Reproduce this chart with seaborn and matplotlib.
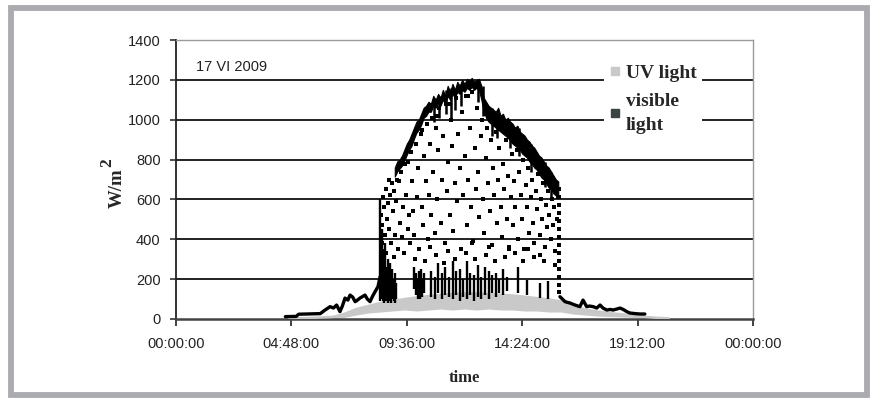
import matplotlib
matplotlib.use("Agg")
import matplotlib.pyplot as plt
import seaborn as sns
import pandas as pd
from matplotlib.patches import Rectangle
from matplotlib.lines import Line2D

# ---------------- data ----------------
tick_hours = [0, 4.8, 9.6, 14.4, 19.2, 24]
tick_labels = ["00:00:00", "04:48:00", "09:36:00", "14:24:00", "19:12:00", "00:00:00"]
y_ticks = [0, 200, 400, 600, 800, 1000, 1200, 1400]
date_label = "17 VI 2009"
series_names = ["UV light", "visible\nlight"]

# UV light (grey band)
uv_hours = [4.7, 5.5, 6.5, 7.0, 7.5, 8.0, 8.5, 9.0, 9.5, 10.0, 10.5, 11.0, 11.5, 12.0, 12.5,
            13.0, 13.5, 14.0, 14.5, 15.0, 15.5, 16.0, 16.5, 17.0, 17.5, 18.0, 18.5, 19.0,
            19.5, 20.0, 20.5]
uv_upper = [3, 5, 10, 25, 50, 65, 80, 90, 100, 108, 115, 120, 125, 128, 128,
            125, 122, 118, 112, 105, 98, 88, 68, 48, 38, 30, 24, 17, 11, 6, 3]
uv_lower = [0, 1, 4, 8, 20, 30, 35, 40, 45, 40, 45, 50, 45, 50, 45,
            50, 45, 45, 40, 40, 35, 35, 25, 20, 15, 12, 10, 8, 5, 3, 0]

# visible light - morning (continuous trace)
vis_morning_hours = [4.55, 5.0, 5.1, 6.0, 6.2, 6.41, 6.55, 6.68, 6.82, 6.92, 7.03, 7.15, 7.24,
                     7.35, 7.45, 7.55, 7.65, 7.75, 7.86, 7.96, 8.07, 8.18, 8.28, 8.40, 8.49]
vis_morning_values = [12, 13, 24, 27, 45, 62, 55, 70, 37, 65, 105, 95, 120,
                      110, 87, 95, 105, 112, 120, 100, 87, 115, 137, 162, 212]

# visible light - evening (continuous trace)
vis_evening_hours = [15.97, 16.18, 16.39, 16.6, 16.8, 16.93, 17.08, 17.2, 17.35, 17.5, 17.64,
                     17.76, 17.92, 18.06, 18.18, 18.33, 18.47, 18.6, 18.75, 18.88, 19.1, 19.3, 19.5]
vis_evening_values = [112, 87, 80, 70, 62, 95, 62, 65, 62, 55, 70,
                      55, 45, 48, 45, 50, 55, 48, 37, 30, 27, 25, 25]

# visible light - dense upper band (clear-sky readings)
band_hours = [9.1, 9.2, 9.3, 9.4, 9.5, 9.6, 9.7, 9.8, 9.9, 10.0, 10.1, 10.2, 10.3, 10.4,
              10.5, 10.6, 10.7, 10.8, 10.9, 11.0, 11.1, 11.2, 11.3, 11.4, 11.5, 11.6, 11.7,
              11.8, 11.9, 12.0, 12.1, 12.2, 12.3, 12.4, 12.5, 12.6, 12.7, 12.8, 12.9, 13.0,
              13.1, 13.2, 13.3, 13.4, 13.5, 13.6, 13.7, 13.8, 13.9, 14.0, 14.1, 14.2, 14.3,
              14.4, 14.5, 14.6, 14.7, 14.8, 14.9, 15.0, 15.1, 15.2, 15.3, 15.4, 15.5, 15.6,
              15.7, 15.8, 15.9]
band_top = [760, 790, 800, 820, 850, 880, 900, 930, 960, 990, 1000, 1030, 1060, 1070,
            1090, 1080, 1120, 1100, 1130, 1110, 1150, 1120, 1170, 1140, 1180, 1150, 1190,
            1170, 1200, 1180, 1205, 1195, 1210, 1190, 1200, 1205, 1170, 1110, 1090, 1070,
            1060, 1050, 1040, 1060, 1020, 1030, 1000, 1010, 990, 980, 960, 970, 940,
            930, 920, 900, 890, 870, 860, 840, 820, 810, 790, 770, 760, 740,
            720, 700, 690]
band_bottom = [715, 740, 755, 770, 795, 825, 850, 870, 905, 935, 950, 975, 1010, 1020,
               1040, 1040, 1070, 1060, 1085, 1070, 1100, 1080, 1120, 1100, 1130, 1110, 1140,
               1130, 1150, 1140, 1160, 1150, 1165, 1150, 1160, 1150, 1100, 1040, 1010, 990,
               980, 970, 960, 950, 940, 930, 920, 910, 895, 880, 870, 860, 850,
               830, 820, 810, 790, 780, 760, 750, 730, 710, 700, 680, 660, 650,
               630, 620, 620]

# visible light - short drops just below the clear-sky band
spike_hours = [10.75, 10.95, 11.25, 11.45, 11.6, 11.85, 12.55, 12.75, 13.15, 13.35, 13.9,
               14.25, 14.75, 15.35, 15.6]
spike_low = [990, 1010, 1030, 1010, 1050, 1070, 1090, 1020, 920, 910, 860,
             820, 740, 660, 610]
spike_high = [1110, 1120, 1150, 1160, 1150, 1180, 1200, 1170, 1060, 1040, 990,
              960, 880, 790, 740]

# visible light - dense low readings under clouds (vertical streaks)
streak_hours = [8.50, 8.55, 8.60, 8.65, 8.70, 8.75, 8.80, 8.85, 8.90, 8.95, 9.00, 9.05, 9.10,
                9.15, 9.90, 10.00, 10.05, 10.10, 10.15, 10.20, 10.25, 10.30, 10.62, 10.78,
                10.90, 11.07, 11.18, 11.36, 11.52, 11.63, 11.82, 11.94, 12.12, 12.23, 12.41,
                12.56, 12.68, 12.87, 13.02, 13.13, 13.31, 13.44, 13.62, 13.77, 14.22, 14.60,
                15.14, 15.47]
streak_low = [90, 100, 90, 80, 100, 90, 80, 100, 90, 80, 100, 90, 80,
              100, 150, 120, 100, 110, 100, 120, 110, 130, 110, 100,
              130, 100, 120, 110, 100, 120, 90, 110, 100, 120, 90,
              110, 100, 120, 100, 130, 110, 130, 120, 140, 130, 120,
              105, 100]
streak_high = [600, 450, 350, 300, 380, 260, 300, 240, 280, 220, 250, 200, 230,
               180, 260, 230, 200, 240, 210, 250, 200, 230, 240, 210,
               280, 230, 260, 210, 290, 240, 250, 200, 290, 230, 220,
               270, 210, 260, 240, 220, 230, 200, 250, 210, 260, 195,
               180, 190]

# visible light - scattered readings between clouds
cloud_hours = [8.52, 8.55, 8.58, 8.61, 8.63, 8.66, 8.68, 8.72, 8.74, 8.77, 8.81, 8.84, 8.86,
               8.90, 8.93, 8.97, 9.02, 9.05, 9.08, 9.12, 9.17, 9.22, 9.26, 9.31, 9.35, 9.40,
               9.44, 9.49, 9.53, 9.58, 9.63, 9.68, 9.72, 9.77, 9.81, 9.86, 9.92, 9.97, 10.03,
               10.07, 10.12, 10.18, 10.22, 10.27, 10.33, 10.38, 10.42, 10.47, 10.52, 10.57,
               10.62, 10.66, 10.71, 10.76, 10.82, 10.86, 10.91, 10.96, 11.01, 11.07, 11.12,
               11.18, 11.23, 11.28, 11.33, 11.38, 11.44, 11.49, 11.54, 11.59, 11.64, 11.69,
               11.75, 11.80, 11.85, 11.90, 11.95, 12.00, 12.06, 12.11, 12.16, 12.21, 12.27,
               12.32, 12.37, 12.42, 12.47, 12.52, 12.57, 12.62, 12.67, 12.73, 12.78, 12.83,
               12.88, 12.93, 12.98, 13.04, 13.09, 13.14, 13.19, 13.24, 13.29, 13.34, 13.39,
               13.45, 13.50, 13.55, 13.60, 13.66, 13.71, 13.76, 13.81, 13.86, 13.92, 13.97,
               14.02, 14.07, 14.12, 14.18, 14.23, 14.28, 14.33, 14.39, 14.44, 14.49, 14.54,
               14.60, 14.65, 14.70, 14.75, 14.81, 14.86, 14.91, 14.96, 15.02, 15.07, 15.12,
               15.17, 15.22, 15.28, 15.33, 15.38, 15.43, 15.48, 15.53, 15.58, 15.63, 15.68,
               15.73, 15.78, 15.83, 15.88,
               15.95, 15.95, 15.95, 15.95, 15.95, 15.95, 15.95, 15.95, 15.95, 15.95, 15.95,
               15.95, 15.95, 15.95,
               9.95, 10.35, 10.80, 11.15, 11.60, 12.05, 12.45, 12.90, 13.25, 13.70, 14.10,
               14.45, 14.90, 15.30, 15.75, 10.55, 11.30, 12.30, 13.00, 13.85, 14.65, 15.15,
               9.20, 9.65, 10.25, 10.85, 11.40, 12.15, 12.85, 13.40, 13.95, 14.55, 15.05,
               15.55]
cloud_values = [520, 380, 470, 610, 300, 560, 420, 650, 330, 500, 580, 700, 450,
                620, 380, 680, 540, 310, 640, 420, 590, 350, 690, 480, 740, 410,
                560, 330, 780, 620, 450, 520, 380, 840, 690, 540, 420, 880, 610,
                760, 350, 930, 560, 470, 820, 690, 980, 400, 620, 880,
                520, 1010, 740, 430, 960, 600, 850, 1060, 480, 700, 920,
                380, 1080, 640, 790, 520, 1000, 870, 440, 680, 1110, 590,
                930, 760, 350, 1040, 620, 820, 1120, 470, 700, 960, 560,
                1140, 390, 860, 650, 1060, 740, 510, 920, 1000, 600, 430,
                810, 960, 680, 540, 900, 370, 760, 620, 940, 480, 700,
                860, 560, 410, 780, 650, 900, 500, 720, 360, 610, 830,
                470, 690, 560, 850, 400, 740, 620, 500, 800, 350, 670,
                560, 760, 430, 610, 700, 480, 380, 640, 550, 730, 420,
                600, 500, 680, 360, 570, 460, 640, 520, 400, 600, 470,
                560, 340, 500, 610,
                650, 610, 570, 530, 490, 450, 410, 370, 330, 290, 250, 210, 170, 135,
                300, 290, 320, 280, 300, 330, 300, 320, 290, 310, 330,
                290, 310, 290, 270, 360, 340, 380, 360, 350, 350, 320,
                700, 790, 950, 1020, 1080, 1120, 1030, 970, 910, 840, 780,
                700]

# ---------------- figure ----------------
sns.set_theme(style="white")
plt.rcParams['font.family'] = ['Liberation Sans', 'DejaVu Sans']

UV_COLOR = "#c9c9c9"
VIS_COLOR = "#000000"

fig = plt.figure(figsize=(8.77, 4.05), dpi=100)
ax = fig.add_axes([176 / 877, 1 - 319 / 405, 577 / 877, 279 / 405])

# outer grey frame
fig.patches.append(Rectangle((10.5 / 877, 1 - 394.5 / 405), 856 / 877, 386.5 / 405,
                             transform=fig.transFigure, fill=False,
                             edgecolor="#a9abae", linewidth=4.2, zorder=0))

# gridlines
for yv in y_ticks[1:-1]:
    ax.axhline(yv, color="#111111", linewidth=1.3, zorder=1)

# UV band
ax.fill_between(uv_hours, uv_lower, uv_upper, color=UV_COLOR, linewidth=0, zorder=2)
sns.lineplot(x=uv_hours, y=uv_upper, estimator=None, sort=False, color=UV_COLOR,
             linewidth=1.8, ax=ax, zorder=2.6)

# visible light
sns.lineplot(x=vis_morning_hours, y=vis_morning_values, estimator=None, sort=False,
             color=VIS_COLOR, linewidth=2.4, ax=ax, zorder=3)
sns.lineplot(x=vis_evening_hours, y=vis_evening_values, estimator=None, sort=False,
             color=VIS_COLOR, linewidth=2.4, ax=ax, zorder=3)
ax.fill_between(band_hours, band_bottom, band_top, color=VIS_COLOR, linewidth=0.8,
                edgecolor=VIS_COLOR, zorder=3)
ax.vlines(spike_hours, spike_low, spike_high, color=VIS_COLOR, linewidth=1.8, zorder=3)
ax.vlines(streak_hours, streak_low, streak_high, color=VIS_COLOR, linewidth=1.7, zorder=3)

cloud_df = pd.DataFrame({"hour": cloud_hours, "value": cloud_values})
sns.scatterplot(data=cloud_df, x="hour", y="value", marker="s", s=7, color=VIS_COLOR,
                linewidth=0, ax=ax, legend=False, zorder=3)

# axes styling
ax.set_xlim(0, 24)
ax.set_ylim(0, 1400)
ax.set_xticks(tick_hours)
ax.set_xticklabels(tick_labels)
ax.set_yticks(y_ticks)
ax.set_yticklabels([str(v) for v in y_ticks])
ax.tick_params(axis="x", direction="out", length=5, width=1.3, color="#333333",
               labelsize=10.5, labelcolor="#222222", pad=8, bottom=True)
ax.tick_params(axis="y", direction="out", length=4, width=1.2, color="#333333",
               labelsize=10.5, labelcolor="#222222", pad=7, left=True)
for side in ["top", "right"]:
    ax.spines[side].set_color("#9a9a9a")
    ax.spines[side].set_linewidth(1.0)
ax.spines["left"].set_color("#222222")
ax.spines["left"].set_linewidth(1.3)
ax.spines["bottom"].set_color("#444444")
ax.spines["bottom"].set_linewidth(1.8)

serif = ["Liberation Serif", "DejaVu Serif"]
ax.set_xlabel("time", fontdict=dict(family=serif, weight="bold", size=12), labelpad=14)
ax.set_ylabel("")
# y label: "W/m" with a full-size raised "2"
fig.text(117 / 877, 1 - 188 / 405, "W/m", rotation=90, ha="center", va="center",
         family=serif, weight="bold", size=13.5)
fig.text(107 / 877, 1 - 163 / 405, "2", rotation=90, ha="center", va="center",
         family=serif, weight="bold", size=12.5)

ax.text(0.035, 0.905, date_label, transform=ax.transAxes, fontsize=10.5,
        color="#222222", va="center", ha="left")

handles = [Line2D([], [], linestyle="none", marker="s", markersize=6,
                  markerfacecolor=UV_COLOR, markeredgecolor=UV_COLOR),
           Line2D([], [], linestyle="none", marker="s", markersize=6,
                  markerfacecolor="#3a4444", markeredgecolor="#3a4444")]
leg = ax.legend(handles, series_names, loc="upper left", bbox_to_anchor=(0.742, 0.935),
                prop=dict(family=serif, weight="bold", size=14),
                frameon=True, facecolor="white", edgecolor="none", framealpha=1,
                fancybox=False, handlelength=0.5, handletextpad=0.3, labelspacing=0.6,
                borderpad=0.3, borderaxespad=0)
for t in leg.get_texts():
    t.set_linespacing(1.5)
leg.set_zorder(5)

fig.savefig("out.png", dpi=100, facecolor="white")
